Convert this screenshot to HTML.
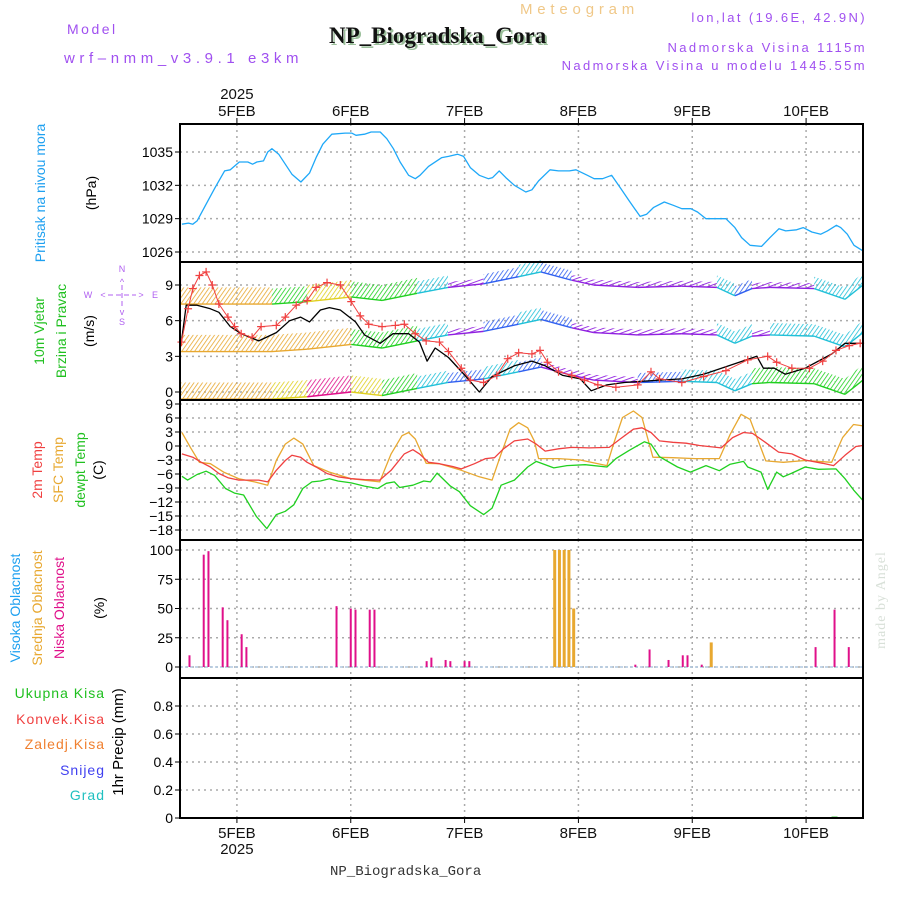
<!DOCTYPE html>
<html><head><meta charset="utf-8">
<style>
html,body{margin:0;padding:0;background:#fff;}
svg{display:block;font-family:"Liberation Sans",sans-serif;}
</style></head>
<body>
<svg id="chart" width="900" height="900" viewBox="0 0 900 900" xmlns="http://www.w3.org/2000/svg">
<defs>
<pattern id="h-orange" width="3.5" height="4" patternUnits="userSpaceOnUse" patternTransform="rotate(35)"><line x1="0" y1="0" x2="0" y2="4" stroke="#e8a830" stroke-width="1.6"/></pattern>
<pattern id="h-yellow" width="3.5" height="4" patternUnits="userSpaceOnUse" patternTransform="rotate(35)"><line x1="0" y1="0" x2="0" y2="4" stroke="#e0d020" stroke-width="1.6"/></pattern>
<pattern id="h-green" width="3.5" height="4" patternUnits="userSpaceOnUse" patternTransform="rotate(35)"><line x1="0" y1="0" x2="0" y2="4" stroke="#20d020" stroke-width="1.6"/></pattern>
<pattern id="h-cyan" width="3.5" height="4" patternUnits="userSpaceOnUse" patternTransform="rotate(35)"><line x1="0" y1="0" x2="0" y2="4" stroke="#20c0d8" stroke-width="1.6"/></pattern>
<pattern id="h-blue" width="3.5" height="4" patternUnits="userSpaceOnUse" patternTransform="rotate(35)"><line x1="0" y1="0" x2="0" y2="4" stroke="#3060f0" stroke-width="1.6"/></pattern>
<pattern id="h-purple" width="3.5" height="4" patternUnits="userSpaceOnUse" patternTransform="rotate(70)"><line x1="0" y1="0" x2="0" y2="4" stroke="#9020e0" stroke-width="1.8"/></pattern>
<pattern id="h-magenta" width="3.5" height="4" patternUnits="userSpaceOnUse" patternTransform="rotate(35)"><line x1="0" y1="0" x2="0" y2="4" stroke="#e0108a" stroke-width="1.6"/></pattern>
</defs>

<!-- header -->
<text x="67" y="34" font-size="14" fill="#a050f0" letter-spacing="2.5">Model</text>
<text x="64" y="63" font-size="15" fill="#a050f0" letter-spacing="4.6">wrf–nmm_v3.9.1 e3km</text>
<text x="520" y="14" font-size="15" fill="#f0c888" letter-spacing="4.8">Meteogram</text>
<text x="331" y="45" font-size="23" font-weight="bold" fill="#9cc09c" font-family="Liberation Serif, serif">NP_Biogradska_Gora</text>
<text x="329" y="43" font-size="23" font-weight="bold" fill="#111" font-family="Liberation Serif, serif">NP_Biogradska_Gora</text>
<text x="867" y="22" font-size="13" fill="#a050f0" text-anchor="end" letter-spacing="2.4">lon,lat (19.6E, 42.9N)</text>
<text x="867" y="52" font-size="13" fill="#a050f0" text-anchor="end" letter-spacing="2.4">Nadmorska Visina 1115m</text>
<text x="867" y="70" font-size="13" fill="#a050f0" text-anchor="end" letter-spacing="2.4">Nadmorska Visina u modelu 1445.55m</text>

<!-- y-axis titles -->
<g font-size="14">
<text transform="translate(45,193) rotate(-90)" text-anchor="middle" fill="#1ea0f0">Pritisak na nivou mora</text>
<text transform="translate(96,193) rotate(-90)" text-anchor="middle" fill="#000">(hPa)</text>
<text transform="translate(44,331) rotate(-90)" text-anchor="middle" fill="#20c020">10m Vjetar</text>
<text transform="translate(66,331) rotate(-90)" text-anchor="middle" fill="#20c020">Brzina i Pravac</text>
<text transform="translate(94,331) rotate(-90)" text-anchor="middle" fill="#000">(m/s)</text>
<text transform="translate(42,470) rotate(-90)" text-anchor="middle" fill="#f04040">2m Temp</text>
<text transform="translate(63,470) rotate(-90)" text-anchor="middle" fill="#e8a830">SFC Temp</text>
<text transform="translate(85,470) rotate(-90)" text-anchor="middle" fill="#20c020">dewpt Temp</text>
<text transform="translate(103,470) rotate(-90)" text-anchor="middle" fill="#000">(C)</text>
<text transform="translate(20,608) rotate(-90)" text-anchor="middle" fill="#1ea0f0">Visoka Oblacnost</text>
<text transform="translate(42,608) rotate(-90)" text-anchor="middle" fill="#e8a830">Srednja Oblacnost</text>
<text transform="translate(64,608) rotate(-90)" text-anchor="middle" fill="#e0108a">Niska Oblacnost</text>
<text transform="translate(104,608) rotate(-90)" text-anchor="middle" fill="#000">(%)</text>
<text transform="translate(123,742) rotate(-90)" text-anchor="middle" fill="#000" font-size="15">1hr Precip (mm)</text>
<g text-anchor="end" letter-spacing="1">
<text x="105" y="698" fill="#20c020">Ukupna Kisa</text>
<text x="105" y="724" fill="#f04040">Konvek.Kisa</text>
<text x="105" y="749" fill="#f08030">Zaledj.Kisa</text>
<text x="105" y="775" fill="#4040f0">Snijeg</text>
<text x="105" y="800" fill="#20c0c0">Grad</text>
</g>
</g>
<!-- compass -->
<g fill="#b060f0" font-size="9" stroke="none">
<text x="122" y="272" text-anchor="middle">N</text>
<text x="122" y="325" text-anchor="middle">S</text>
<text x="88" y="298" text-anchor="middle">W</text>
<text x="155" y="298" text-anchor="middle">E</text>
<text x="122" y="285" text-anchor="middle">^</text>
<text x="122" y="315" text-anchor="middle">v</text>
<text x="103" y="298" text-anchor="middle">&lt;</text>
<text x="141" y="298" text-anchor="middle">&gt;</text>
<line x1="108" y1="295" x2="136" y2="295" stroke="#b060f0" stroke-dasharray="5,3"/>
<line x1="122" y1="285" x2="122" y2="308" stroke="#b060f0" stroke-dasharray="5,3"/>
</g>
<text transform="translate(885,600) rotate(-90)" text-anchor="middle" font-size="14" fill="#d8e0d8" font-family="Liberation Serif, serif" letter-spacing="1">made by Angel</text>
<text x="330" y="875" font-size="14" fill="#333" font-family="Liberation Mono, monospace">NP_Biogradska_Gora</text>

<g id="grid"></g>
<g id="marks"></g>
<g id="frames"></g>
</svg>
<script>
// ---- data (hours from 4FEB 12UTC) ----
const dayLabels = ["5FEB","6FEB","7FEB","8FEB","9FEB","10FEB"];
const dayHours = [12,36,60,84,108,132];
const pressTicks = [1026,1029,1032,1035];
const windTicks = [0,3,6,9];
const tempTicks = [9,6,3,0,-3,-6,-9,-12,-15,-18];
const cloudTicks = [0,25,50,75,100];
const precipTicks = [0,0.2,0.4,0.6,0.8];

const pressHours = [0.4,1.8,2.7,3.6,5.5,7.4,9.4,10.6,12.5,14.3,15.3,16.2,17.6,18.5,19.4,20.8,22.2,23.6,25.5,27.3,28.7,30.1,32,34.8,36.2,37.1,38.9,40.3,42.2,43.6,45,46.4,48.2,49.6,50.6,52.4,55.2,56.6,58.5,59.8,61.2,63.1,65,65.9,67.3,68.7,70.5,72.9,74.2,75.6,78,79.8,82.1,83.5,85.9,87.3,89.1,91,92.8,94.7,97,98.4,99.8,102.1,104,105.8,107.7,109.1,110.9,112.8,115.1,117,118.4,120.2,122.6,124.4,126.3,127.7,130,131.4,133.2,135.1,136.5,138.4,139.3,140.7,142.1,144];
const pressVals = [1028.5,1028.6,1028.5,1028.8,1030.3,1031.8,1033.3,1033.4,1034.1,1034.1,1033.9,1034.1,1034.2,1035.0,1035.3,1034.8,1033.9,1033.0,1032.3,1033.1,1034.5,1035.7,1036.6,1036.7,1036.7,1036.5,1036.6,1036.8,1036.8,1036.2,1035.3,1034.1,1032.9,1032.6,1032.9,1033.7,1034.5,1034.6,1034.8,1034.6,1033.6,1032.9,1032.6,1032.7,1033.3,1032.7,1032.0,1031.4,1031.6,1032.4,1033.4,1033.3,1033.3,1033.4,1032.9,1032.6,1032.6,1032.9,1031.8,1030.6,1029.2,1029.4,1030.0,1030.5,1030.2,1029.9,1029.9,1029.6,1029.0,1029.0,1029.0,1028.2,1027.3,1026.6,1026.5,1027.3,1028.1,1027.9,1028.0,1028.2,1027.8,1027.6,1027.9,1028.4,1028.2,1027.6,1026.6,1026.1];

const windHours = [0.3,1.3,3.6,6.4,8.2,10.6,12.9,16.6,20.3,23.1,25.4,27.3,29.6,31.5,33.8,37,38.9,42.2,44.9,48.2,50.5,52.1,53.8,56.6,60.3,63.1,65.8,70.5,74.2,77,80.7,84.4,86.7,90,93.7,101.1,105.8,110.4,117.9,121.6,123,125.3,127.6,131.8,137.4,140.2,143.9];
const windSpeed = [4.2,7.3,7.3,7.0,6.7,5.5,4.9,4.3,5.0,6.0,6.3,5.9,6.9,7.1,6.9,5.9,4.8,4.1,4.9,4.9,4.2,2.6,3.7,2.9,1.3,0.0,1.3,2.2,2.6,2.2,1.4,1.1,0.1,0.6,0.8,1.0,1.1,1.5,2.5,3.0,2.0,2.0,1.5,2.0,3.2,4.1,4.1];
const gustHours = [0.3,1.7,2.7,4.1,5.5,6.8,8.2,10.1,11.5,12.9,15.2,17.1,20.3,22.2,24.5,26.8,28.7,31,33.8,36.1,38,39.8,42.6,45.4,47.3,49.6,51.9,54.7,56.6,59.3,61.2,64,66.8,69.1,71.4,74.2,75.9,77.5,79.8,82.6,85.3,88.1,91.9,96.5,99.3,101.1,105.8,110.4,115.1,119.7,123.9,125.8,129,132.7,135.5,138.3,141.1,143.4];
const gustVals = [4.2,7.0,8.7,9.8,10.1,9.0,7.4,6.3,5.5,4.9,4.6,5.5,5.6,6.3,7.3,7.7,8.8,9.2,9.0,7.6,6.4,5.7,5.5,5.6,5.7,4.9,4.3,4.2,3.4,2.0,1.0,0.8,1.4,2.8,3.3,3.2,3.5,2.5,1.7,1.4,1.0,0.6,0.4,0.6,1.7,1.1,0.8,1.3,1.8,2.7,3.0,2.5,2.0,2.0,2.6,3.5,3.9,4.1];

const barbHours = [0,19.4,26.8,36.1,42.6,50,56.5,64,71.4,76.1,82.6,87.2,96.5,105.8,113.2,117,120.6,124.4,133.7,140.2,144];
const barbBase = [7.4,7.4,7.6,8.0,7.7,8.3,8.8,9.1,9.7,10.1,9.4,9.0,8.8,8.9,8.8,8.1,8.7,8.8,8.7,7.8,9.0];
const barbColorsTop = ["orange","green","yellow","green","green","cyan","purple","blue","cyan","blue","purple","purple","purple","purple","cyan","blue","purple","purple","cyan","cyan"];
const barbColorsMid = ["orange","orange","orange","green","green","cyan","purple","blue","cyan","blue","purple","purple","purple","purple","cyan","cyan","purple","cyan","cyan","cyan"];
const barbColorsBot = ["orange","yellow","magenta","yellow","green","cyan","blue","cyan","blue","purple","purple","purple","blue","cyan","cyan","cyan","green","green","green","green"];
const barbLen = {orange:1.4,yellow:1.4,magenta:1.4,green:1.3,cyan:1.0,blue:0.8,purple:0.45};

const t2Hours = [0.4,2.7,4.5,6.4,8.2,10.1,12.4,14.7,16.6,18.5,20.3,22.2,23.6,25.4,26.8,28.7,31,33.3,36.1,38.9,42.1,44.5,47.3,49.1,50.5,52.4,54.7,57.5,59.3,62.1,64.4,66.3,68.2,70.5,73.3,75.1,77,79.8,82.6,86.3,90.5,92.8,95.6,97.4,99.3,101.1,103.9,106.7,109.5,114.1,116.5,118.8,120.7,123.4,126.2,129,131.8,135.5,137.8,140.2,142.5,144];
const t2Vals = [-1.7,-2.4,-3.5,-4.5,-5.9,-6.8,-7.3,-7.3,-7.3,-7.7,-5.2,-3.1,-2.0,-2.4,-3.5,-4.5,-5.9,-6.6,-7.0,-7.2,-7.3,-5.2,-1.7,-0.8,-1.7,-3.5,-3.8,-4.4,-4.9,-3.8,-2.7,-2.5,-0.6,1.1,1.5,0.4,-1.1,-0.6,-0.3,-0.4,-0.3,1.5,3.6,3.9,2.9,1.1,0.8,0.6,0.1,-0.4,1.8,2.9,2.7,0.8,-1.3,-1.7,-3.0,-3.7,-4.2,-2.0,-0.1,0.1];
const sfcHours = [0.4,2.2,4.1,6.4,9.2,12.4,15.7,18.5,20.3,22.2,24,25.9,28.2,31.5,36.1,42.1,44.5,46.8,48.2,49.6,51.9,54.7,59.3,63.1,65.8,67.7,69.6,71.4,73.3,74.7,75.6,79.8,84.4,90,91.4,93.3,95.6,97.4,99.7,103.9,108.6,113.7,116,118.3,120.2,123.5,127.2,131.8,137.4,139.7,142,144];
const sfcVals = [2.9,-0.3,-3.5,-3.8,-5.6,-7.0,-7.7,-8.4,-3.1,0.4,1.7,0.4,-4.2,-5.6,-7.0,-7.7,-1.7,2.2,2.9,1.5,-3.7,-3.8,-5.2,-6.6,-7.3,-1.7,3.6,5.0,3.9,1.1,-2.7,-2.7,-3.0,-4.2,0.4,6.1,7.5,6.1,-2.4,-2.5,-2.7,-2.7,2.5,6.8,5.7,-3.2,-3.5,-3.1,-3.5,1.8,4.6,4.3];
const dewHours = [0.4,1.6,3.6,5.5,7.3,9.6,11.5,13.4,16.1,18.3,20.3,22.2,24,25.9,27.8,29.6,31.5,33.3,36.1,38.9,41.7,43.5,45.2,46.3,49.1,51.4,52.8,54.2,57,58.9,61.2,64,65.8,67.7,70.5,73.3,75.1,78.8,81.6,85.4,90,91.9,94.6,97.9,99.3,101.1,104.9,107.6,110.9,113.7,116,118.8,119.7,122.5,123.9,125.8,127.2,129,131.8,134.6,138.3,140.2,142,144];
const dewVals = [-6.5,-7.3,-6.1,-5.4,-6.3,-9.1,-10.1,-10.5,-15.1,-17.7,-14.7,-14.0,-12.6,-9.1,-7.7,-7.5,-7.0,-7.5,-7.9,-8.6,-9.1,-8.0,-7.7,-8.9,-8.4,-7.5,-7.7,-5.8,-8.6,-9.8,-12.8,-14.7,-13.3,-8.4,-7.3,-4.5,-3.3,-4.7,-4.2,-4.0,-4.5,-2.7,-1.0,0.9,0.4,-2.3,-4.5,-5.6,-4.2,-5.3,-3.9,-3.3,-4.5,-5.6,-9.3,-5.6,-6.6,-5.8,-4.5,-5.0,-4.9,-7.0,-9.4,-11.7];

const lowCloudHours = [2,5,6,9,10,13,14,33,36,37,40,41,52,53,56,57,60,61,80,96,99,103,106,107,110,134,138,141];
const lowCloudVals = [10,96,99,51,40,28,17,52,50,49,49,49,5,8,6,5,5,5,5,2,15,6,10,10,2,17,49,17];
const midCloudHours = [79,80,81,82,83,112];
const midCloudVals = [100,100,100,100,50,21];
const precipHours = [138];
const precipVals = [0.003];

// ---- axes ----
const X0 = 180, X1 = 863, SPAN = 144;
const xs = h => X0 + h * (X1 - X0) / SPAN;
const yP = v => 252 - (v - 1026) * 100 / 9;
const yW = v => 392 - v * 107 / 9;
const yT = v => 446 - v * 126 / 27;
const yC = v => 667 - v * 1.17;
const yR = v => 818 - v * 140;
const panels = [[124,262],[262,400],[400,540],[540,678],[678,818]];
const NS = "http://www.w3.org/2000/svg";
const grid = document.getElementById('grid');
const marks = document.getElementById('marks');
const frames = document.getElementById('frames');
function mk(tag, attrs, parent){const e=document.createElementNS(NS,tag);for(const k in attrs)e.setAttribute(k,attrs[k]);parent.appendChild(e);return e;}

dayHours.forEach((h,i)=>{
  const x = xs(h);
  panels.forEach(p=>{
    const l = mk('line',{x1:x,y1:p[0],x2:x,y2:p[1],stroke:'#aaa','stroke-dasharray':'2,4','stroke-width':1.5},grid);
    
    
  });
  const t1 = mk('line',{x1:x,y1:118,x2:x,y2:124,stroke:'#000'},grid);
  
  
  const t2 = mk('line',{x1:x,y1:818,x2:x,y2:823,stroke:'#000'},grid);
  
  
  const lt = mk('text',{x:x,y:116,'text-anchor':'middle','font-size':15,fill:'#111'},grid);
  lt.textContent = dayLabels[i];
  
  
  const lb = mk('text',{x:x,y:838,'text-anchor':'middle','font-size':15,fill:'#111'},grid);
  lb.textContent = dayLabels[i];
  
  
});
const yr1 = mk('text',{x:xs(12),y:99,'text-anchor':'middle','font-size':15,fill:'#111'},grid);
yr1.textContent='2025';


const yr2 = mk('text',{x:xs(12),y:854,'text-anchor':'middle','font-size':15,fill:'#111'},grid);
yr2.textContent='2025';



function yTicks(ticks, fy, name, fmt){
  ticks.forEach(v=>{
    const y = fy(v);
    const g = mk('line',{x1:X0,y1:y,x2:X1,y2:y,stroke:'#aaa','stroke-dasharray':'2,4','stroke-width':1.5},grid);
    
    
    const tk = mk('line',{x1:X0-5,y1:y,x2:X0,y2:y,stroke:'#000'},grid);
    
    
    const t = mk('text',{x:X0-7,y:y+5,'text-anchor':'end','font-size':14,fill:'#000'},grid);
    t.textContent = fmt ? fmt(v) : String(v).replace('-','\u2212');
    
    
  });
}
yTicks(pressTicks,yP,'pressure');
yTicks(windTicks,yW,'wind');
yTicks(tempTicks,yT,'temp');
yTicks(cloudTicks,yC,'cloud');
yTicks(precipTicks,yR,'precip',v=>v===0?'0':String(v));

function line(hs, vs, fy, color, name, w){
  const d = hs.map((h,i)=>(i?'L':'M')+xs(h).toFixed(1)+','+fy(vs[i]).toFixed(1)).join('');
  const p = mk('path',{d:d,fill:'none',stroke:color,'stroke-width':w||1.3,'stroke-linejoin':'round'},marks);
  
  
  return p;
}
line(pressHours,pressVals,yP,'#1ea8f8','pressure-line');

function band(colors, offset, name){
  for(let i=0;i<barbHours.length-1;i++){
    const c = colors[i], L = barbLen[c];
    const x1 = xs(barbHours[i]), x2 = xs(barbHours[i+1]);
    const b1 = barbBase[i]-offset, b2 = barbBase[i+1]-offset;
    const d = `M${x1},${yW(b1)}L${x2},${yW(b2)}L${x2},${yW(b2+L)}L${x1},${yW(b1+L)}Z`;
    const p = mk('path',{d:d,fill:'url(#h-'+c+')'},marks);
    
    
    const e = mk('path',{d:`M${x1},${yW(b1)}L${x2},${yW(b2)}`,stroke:document.querySelector('#h-'+c+' line').getAttribute('stroke'),'stroke-width':1.4,fill:'none'},marks);
    
    
  }
}
band(barbColorsTop,0,'wind-barbs-top');
band(barbColorsMid,4,'wind-barbs-middle');
band(barbColorsBot,8,'wind-barbs-bottom');

line(windHours,windSpeed,yW,'#000','wind-speed-line',1.3);
line(gustHours,gustVals,yW,'#f04040','gust-line',1);
gustHours.forEach((h,i)=>{
  const x = xs(h), y = yW(gustVals[i]);
  const c = mk('path',{d:`M${x-4},${y}L${x+4},${y}M${x},${y-4}L${x},${y+4}`,stroke:'#f04040','stroke-width':1.2},marks);
  
  
});

line(sfcHours,sfcVals,yT,'#e8a830','sfc-temp-line');
line(t2Hours,t2Vals,yT,'#f04040','temp-2m-line');
line(dewHours,dewVals,yT,'#20d020','dewpoint-line');

const cb = mk('line',{x1:X0,y1:yC(0),x2:X1,y2:yC(0),stroke:'#b0c8e0','stroke-dasharray':'3,2','stroke-width':1.5},marks);


lowCloudHours.forEach((h,i)=>{
  const x = xs(h);
  const r = mk('rect',{x:x-1,y:yC(lowCloudVals[i]),width:2,height:yC(0)-yC(lowCloudVals[i]),fill:'#e0108a'},marks);
  
  
});
midCloudHours.forEach((h,i)=>{
  const x = xs(h);
  const r = mk('rect',{x:x-1.5,y:yC(midCloudVals[i]),width:3,height:yC(0)-yC(midCloudVals[i]),fill:'#e8a830'},marks);
  
  
});
precipHours.forEach((h,i)=>{
  const x = xs(h);
  const r = mk('rect',{x:x-3,y:yR(precipVals[i])-1,width:6,height:yR(0)-yR(precipVals[i])+1,fill:'#20c020'},marks);
  
  
});

panels.forEach((p,i)=>{
  const r = mk('rect',{x:X0,y:p[0],width:X1-X0,height:p[1]-p[0],fill:'none',stroke:'#000','stroke-width':2},frames);
  
  
});
</script>
</body></html>
